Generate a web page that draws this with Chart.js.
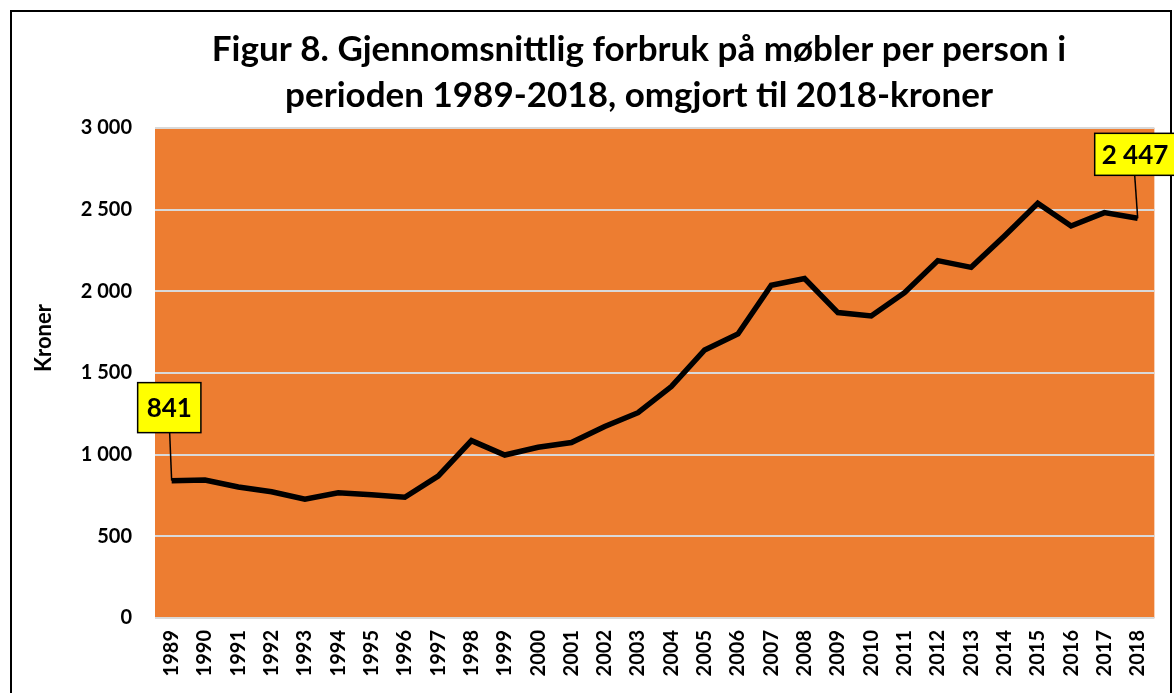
<!DOCTYPE html>
<html>
<head>
<meta charset="utf-8">
<script src="https://cdn.jsdelivr.net/npm/chart.js@4.4.1/dist/chart.umd.min.js"></script>
<style>
  html, body { margin: 0; padding: 0; background: #fff; }
  #wrap { width: 1174px; height: 693px; position: relative; }
</style>
</head>
<body>
<div id="wrap"><canvas id="furnitureChart" width="1174" height="693"></canvas></div>
<script>
/* --- DATA --- */
const years = ['1989', '1990', '1991', '1992', '1993', '1994', '1995', '1996', '1997', '1998',
    '1999', '2000', '2001', '2002', '2003', '2004', '2005', '2006', '2007', '2008',
    '2009', '2010', '2011', '2012', '2013', '2014', '2015', '2016', '2017', '2018'];
const kroner = [841, 845, 802, 773, 727, 767, 755, 739, 869, 1086,
    998, 1045, 1074, 1172, 1257, 1417, 1641, 1739, 2037, 2078,
    1870, 1849, 1992, 2188, 2147, 2339, 2539, 2400, 2482, 2447];
const yTicks = [0, 500, 1000, 1500, 2000, 2500, 3000];
const titleLines = ['Figur 8. Gjennomsnittlig forbruk på møbler per person i',
    'perioden 1989-2018, omgjort til 2018-kroner'];
const axisTitle = 'Kroner';
const labelledPoints = [0, 29]; // first and last year get a yellow callout

const FONT = 'Lato, "Open Sans", sans-serif';

function fmt(v) {
    return String(v).replace(/\B(?=(\d{3})+(?!\d))/g, ' ');
}

/* --- PLUGIN: frame, plot background, title, axis title, callouts --- */
const decorPlugin = {
    id: 'decor',
    beforeDraw(chart) {
        const { ctx, chartArea: a } = chart;
        ctx.save();
        ctx.fillStyle = '#fff';
        ctx.fillRect(0, 0, chart.width, chart.height);
        ctx.fillStyle = '#ED7D31';
        ctx.fillRect(a.left, a.top, a.right - a.left, a.bottom - a.top);
        ctx.restore();
    },
    afterDraw(chart) {
        const { ctx } = chart;
        ctx.save();
        // outer frame
        ctx.strokeStyle = '#000';
        ctx.lineWidth = 2;
        ctx.strokeRect(11, 11, 1160, 700);

        // title
        ctx.fillStyle = '#000';
        ctx.font = 'bold 35px ' + FONT;
        ctx.textAlign = 'center';
        ctx.textBaseline = 'middle';
        ctx.fillText(titleLines[0], 639, 50);
        ctx.fillText(titleLines[1], 639, 96);

        // y-axis title
        ctx.save();
        ctx.translate(44, 338);
        ctx.rotate(-Math.PI / 2);
        ctx.font = 'bold 22px ' + FONT;
        ctx.fillText(axisTitle, 0, 0);
        ctx.restore();

        // callouts: box placement relative to the point (first / last)
        const meta = chart.getDatasetMeta(0);
        labelledPoints.forEach((idx, i) => {
            const pt = meta.data[idx];
            const label = fmt(kroner[idx]);
            const first = i === 0;
            ctx.font = 'bold 26px ' + FONT;
            const w = ctx.measureText(label).width + (first ? 18 : 14);
            const h = first ? 50 : 42;
            const bx = first ? pt.x - 34 : pt.x - 43;
            const by = first ? pt.y - 98 : pt.y - 85;
            const lx = first ? pt.x - 2 : pt.x - 3;
            ctx.strokeStyle = '#000';
            ctx.lineWidth = 1.5;
            ctx.beginPath();
            ctx.moveTo(lx, by + h);
            ctx.lineTo(pt.x, pt.y);
            ctx.stroke();
            ctx.fillStyle = '#FFFF00';
            ctx.fillRect(bx, by, w, h);
            ctx.strokeRect(bx, by, w, h);
            ctx.fillStyle = '#000';
            ctx.textAlign = 'center';
            ctx.fillText(label, bx + w / 2, by + h / 2 + 1);
        });
        ctx.restore();
    }
};

/* --- CHART --- */
const ctx = document.getElementById('furnitureChart').getContext('2d');
new Chart(ctx, {
    type: 'line',
    data: {
        labels: years,
        datasets: [{
            label: axisTitle,
            data: kroner,
            borderColor: '#000',
            borderWidth: 5.5,
            pointRadius: 0,
            tension: 0,
            fill: false
        }]
    },
    options: {
        responsive: false,
        animation: false,
        devicePixelRatio: 1,
        layout: { padding: { left: 10, right: 18, top: 128, bottom: 0 } },
        plugins: {
            legend: { display: false },
            title: { display: false },
            tooltip: { enabled: false }
        },
        scales: {
            x: {
                offset: true,
                grid: { display: false, drawTicks: false },
                border: { display: false },
                ticks: {
                    color: '#000',
                    font: { family: FONT, weight: 'bold', size: 20 },
                    minRotation: 90,
                    maxRotation: 90,
                    autoSkip: false,
                    padding: 12
                },
                afterFit(scale) { scale.height = 75; }
            },
            y: {
                min: 0,
                max: 3000,
                afterBuildTicks(scale) { scale.ticks = yTicks.map(v => ({ value: v })); },
                grid: { color: '#D9D9D9', lineWidth: 2, drawTicks: false },
                border: { display: false },
                ticks: {
                    color: '#000',
                    font: { family: FONT, weight: 'bold', size: 20 },
                    padding: 23,
                    callback: v => fmt(v)
                },
                afterFit(scale) { scale.width = 145; }
            }
        }
    },
    plugins: [decorPlugin]
});
</script>
</body>
</html>
